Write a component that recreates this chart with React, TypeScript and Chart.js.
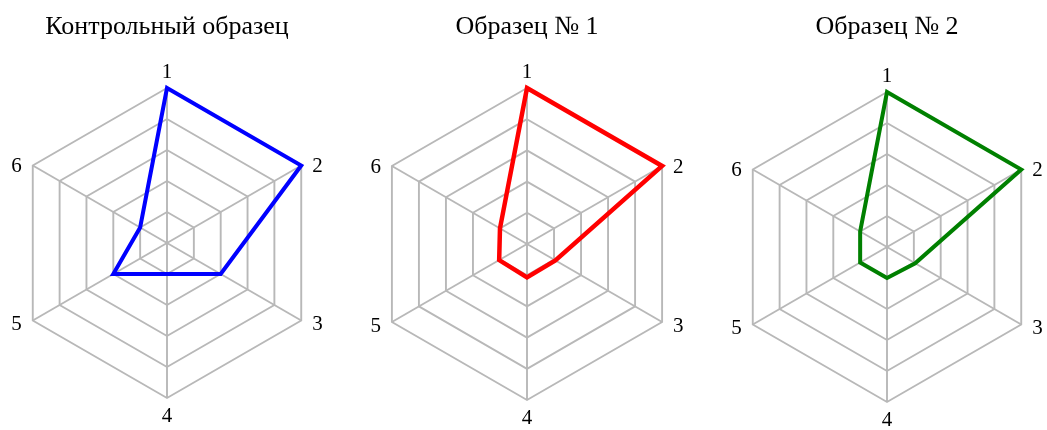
import React, { useEffect, useRef } from 'react';
import { Chart, registerables } from 'chart.js';

Chart.register(...registerables);

// ---- data ----
const axisLabels = ['1', '2', '3', '4', '5', '6'];
const panelTitles = ['Контрольный образец', 'Образец № 1', 'Образец № 2'];
const controlValues = [5, 5, 2, 1, 2, 1];
const sample1Values = [5, 5, 1.05, 1.07, 1.03, 1.0];
const sample2Values = [5, 5, 1.05, 1.0, 1.0, 1.0];
const seriesColors = ['#0000ff', '#ff0000', '#008000'];
const scaleMin = 0;
const scaleMax = 5;
const scaleStep = 1;

// ---- layout / styles ----
const serifFamily = '"Liberation Serif", "Times New Roman", serif';
const CANVAS_W = 340;
const CANVAS_H = 430;
const panelLayouts = [
  { left: -3, titleGap: 44.8, padBottom: 32, lineWidth: 4 },
  { left: 357, titleGap: 45.3, padBottom: 29.5, lineWidth: 4.5 },
  { left: 717, titleGap: 48.8, padBottom: 28, lineWidth: 4 },
];

const axisNumberPlugin = {
  id: 'axisNumberLabels',
  afterDraw(chart: any) {
    const scale = chart.scales.r;
    const ctx = chart.ctx;
    const labels: string[] = chart.data.labels;
    ctx.save();
    ctx.font = `21px ${serifFamily}`;
    ctx.fillStyle = '#000';
    ctx.textBaseline = 'middle';
    labels.forEach((lab, i) => {
      const p = scale.getPointPosition(i, scale.drawingArea);
      const ang = scale.getIndexAngle(i);
      const s = Math.sin(ang);
      const c = Math.cos(ang);
      let x = p.x;
      let y = p.y;
      if (Math.abs(s) < 0.1) {
        ctx.textAlign = 'center';
        y += c > 0 ? -16 : 18;
      } else {
        ctx.textAlign = s > 0 ? 'left' : 'right';
        x += s > 0 ? 11 : -11;
        y += c < 0 ? 4 : 1;
      }
      ctx.fillText(lab, x, y);
    });
    ctx.restore();
  },
};

function RadarPanel({ title, values, color, layout }: any) {
  const ref = useRef<HTMLCanvasElement | null>(null);
  useEffect(() => {
    if (!ref.current) return;
    const chart = new Chart(ref.current, {
      type: 'radar',
      data: {
        labels: axisLabels,
        datasets: [
          {
            data: values,
            borderColor: color,
            borderWidth: layout.lineWidth,
            pointRadius: 0,
            pointHoverRadius: 0,
            fill: false,
            tension: 0,
          },
        ],
      },
      options: {
        responsive: false,
        animation: false,
        devicePixelRatio: 1,
        events: [],
        layout: { padding: { top: 0, bottom: layout.padBottom, left: 0, right: 0 } },
        plugins: {
          legend: { display: false },
          tooltip: { enabled: false },
          title: {
            display: true,
            text: title,
            color: '#000',
            font: { family: serifFamily, size: 26, weight: 'normal' },
            padding: { top: 12, bottom: layout.titleGap },
          },
        },
        scales: {
          r: {
            min: scaleMin,
            max: scaleMax,
            ticks: { display: false, stepSize: scaleStep },
            grid: { color: '#b8b8b8', lineWidth: 1.9 },
            angleLines: { color: '#b8b8b8', lineWidth: 1.9 },
            pointLabels: { display: false },
          },
        },
      } as any,
      plugins: [axisNumberPlugin],
    });
    return () => chart.destroy();
  }, [title, values, color, layout]);
  return (
    <canvas
      ref={ref}
      width={CANVAS_W}
      height={CANVAS_H}
      style={{ position: 'absolute', left: layout.left, top: 0, width: CANVAS_W, height: CANVAS_H }}
    />
  );
}

export default function App() {
  const seriesValues = [controlValues, sample1Values, sample2Values];
  return (
    <div
      style={{
        position: 'absolute',
        left: 0,
        top: 0,
        width: 1047,
        height: 430,
        overflow: 'hidden',
        background: '#fff',
      }}
    >
      {panelTitles.map((t, i) => (
        <RadarPanel key={i} title={t} values={seriesValues[i]} color={seriesColors[i]} layout={panelLayouts[i]} />
      ))}
    </div>
  );
}
